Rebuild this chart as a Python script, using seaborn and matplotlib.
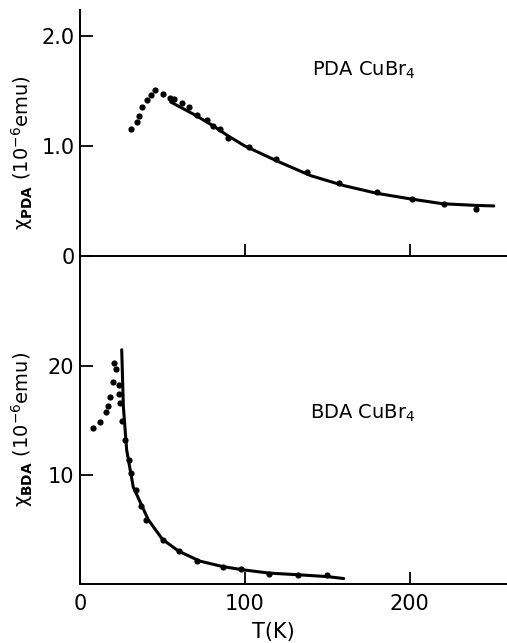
import seaborn as sns
import matplotlib
matplotlib.use("Agg")
import matplotlib.pyplot as plt

# PDA CuBr4 - measured points
t_pda = [31, 34.3, 36, 37.4, 40.6, 43, 45.5, 50.3, 54.7, 57, 61.8, 65.9, 70.7,
         77, 80.8, 84.8, 90, 102.6, 118.8, 137.4, 157.2, 180.2, 201.2, 220.6, 240.4]
chi_pda = [1.15, 1.22, 1.27, 1.35, 1.42, 1.46, 1.51, 1.47, 1.44, 1.43, 1.39, 1.35, 1.28,
           1.24, 1.18, 1.15, 1.07, 0.99, 0.88, 0.76, 0.66, 0.585, 0.515, 0.47, 0.43]
# PDA fit curve
t_pda_fit = [55, 60, 70, 80, 90, 100, 110, 120, 140, 160, 180, 200, 220, 240, 251]
chi_pda_fit = [1.40, 1.36, 1.28, 1.19, 1.09, 1.00, 0.93, 0.86, 0.73, 0.64, 0.57,
               0.52, 0.475, 0.46, 0.455]

# BDA CuBr4 - measured points
t_bda = [8.1, 12.1, 15.6, 17, 18.4, 19.8, 20.8, 21.8, 23.8, 23.8, 24.2, 25.6, 27.5,
         29.7, 30.9, 33.7, 37, 40, 50.1, 60, 70.7, 86.5, 97.4, 114.7, 132.3, 149.9]
chi_bda = [14.3, 14.9, 15.8, 16.3, 17.2, 18.5, 20.3, 19.7, 18.3, 17.4, 16.6, 15.0, 13.2,
           11.4, 10.2, 8.6, 7.2, 5.9, 4.0, 3.0, 2.1, 1.6, 1.35, 0.92, 0.83, 0.80]
# BDA fit curve
t_bda_fit = [25.3, 26.3, 28.3, 32.3, 41.4, 50, 60, 72.7, 86.5, 99, 114.7, 132, 150, 160]
chi_bda_fit = [21.5, 16.3, 12.3, 8.9, 5.9, 4.1, 3.0, 2.1, 1.6, 1.3, 1.0, 0.85, 0.68, 0.5]

sns.set_style("ticks")
plt.rcParams['font.family'] = ['DejaVu Sans']
plt.rcParams['mathtext.default'] = 'regular'
plt.rcParams['font.size'] = 14
plt.rcParams['text.color'] = 'black'
plt.rcParams['axes.labelcolor'] = 'black'

fig = plt.figure(figsize=(5.07, 6.43), dpi=100)
ax1 = fig.add_axes([80 / 507, 1 - 256 / 643, 427 / 507, 246 / 643])
ax2 = fig.add_axes([80 / 507, 1 - 584 / 643, 427 / 507, 328 / 643])

for ax in (ax1, ax2):
    for side in ("top", "right"):
        ax.spines[side].set_visible(False)
    for side in ("left", "bottom"):
        ax.spines[side].set_linewidth(1.4)
        ax.spines[side].set_color("black")
    ax.tick_params(direction="in", length=9, width=1.3, colors="black",
                   labelsize=15, pad=4)
    ax.set_xlim(0, 259)
    ax.set_facecolor("none")

# top panel
sns.lineplot(x=t_pda_fit, y=chi_pda_fit, ax=ax1, color="black", lw=2.2,
             sort=False, estimator=None)
sns.scatterplot(x=t_pda, y=chi_pda, ax=ax1, color="black", s=20, linewidth=0)
ax1.set_ylim(0, 2.236)
ax1.set_yticks([0, 1.0, 2.0])
ax1.set_yticklabels(["0", "1.0", "2.0"])
ax1.set_xticks([100, 200])
ax1.set_xticklabels([])
ax1.set_ylabel(r"χ$_{\mathbf{PDA}}$ (10$^{-6}$emu)", fontsize=14)
ax1.yaxis.set_label_coords(-0.105, 0.42)
ax1.text(140.6, 1.69, r"PDA CuBr$_4$", fontsize=14, va="center", ha="left")

# bottom panel
sns.lineplot(x=t_bda_fit, y=chi_bda_fit, ax=ax2, color="black", lw=2.2,
             sort=False, estimator=None)
sns.scatterplot(x=t_bda, y=chi_bda, ax=ax2, color="black", s=20, linewidth=0)
ax2.set_ylim(0, 30.1)
ax2.set_yticks([10, 20])
ax2.set_yticklabels(["10", "20"])
ax2.set_xticks([0, 100, 200])
ax2.set_xticklabels(["0", "100", "200"])
ax2.tick_params(axis="x", pad=7)
ax2.set_ylabel(r"χ$_{\mathbf{BDA}}$ (10$^{-6}$emu)", fontsize=14)
ax2.yaxis.set_label_coords(-0.105, 0.47)
ax2.set_xlabel("T(K)", fontsize=15)
ax2.xaxis.set_label_coords(0.454, -0.115)
ax2.text(139.4, 15.7, r"BDA CuBr$_4$", fontsize=14, va="center", ha="left")

fig.savefig("out.png", dpi=100, facecolor="white")
